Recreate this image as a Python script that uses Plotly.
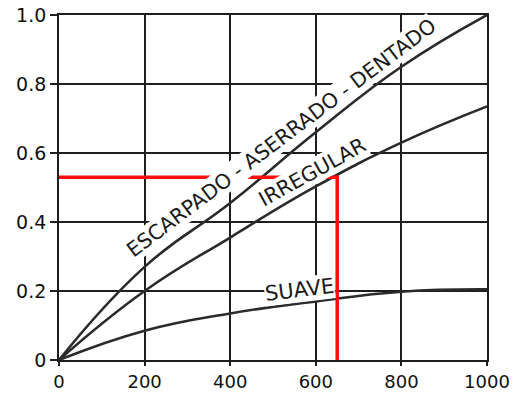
import plotly.graph_objects as go

# Curve readings (x in the horizontal unit, y as fraction 0..1)
x_pts = [0, 200, 400, 600, 800, 1000]
escarpado = [0, 0.27, 0.455, 0.66, 0.85, 1.0]
irregular = [0, 0.20, 0.355, 0.503, 0.63, 0.735]
suave = [0, 0.085, 0.135, 0.17, 0.198, 0.205]

# Worked example
reading_x = 650
reading_y = 0.53

x_ticks = [0, 200, 400, 600, 800, 1000]
x_tick_text = ["0", "200", "400", "600", "800", "1000"]
y_ticks = [0, 0.2, 0.4, 0.6, 0.8, 1.0]
y_tick_text = ["0", "0.2", "0.4", "0.6", "0.8", "1.0"]

ink = "#1e1e1e"
font_family = "DejaVu Sans, Arial, sans-serif"

fig = go.Figure()

for ys in (escarpado, irregular, suave):
    fig.add_trace(go.Scatter(
        x=x_pts, y=ys, mode="lines",
        line=dict(color="#2b2b2b", width=2.6, shape="spline", smoothing=1.3),
        hoverinfo="skip", showlegend=False, cliponaxis=False,
    ))

fig.add_trace(go.Scatter(
    x=[0, reading_x, reading_x], y=[reading_y, reading_y, 0], mode="lines",
    line=dict(color="#ff0d0d", width=3.5),
    hoverinfo="skip", showlegend=False, cliponaxis=False,
))

labels = [
    ("ESCARPADO - ASERRADO - DENTADO", 519, 0.643, -37, 20.5),
    ("IRREGULAR", 592, 0.545, -29, 20.5),
    ("SUAVE", 561, 0.203, -7, 21),
]
for text, lx, ly, ang, size in labels:
    fig.add_annotation(
        x=lx, y=ly, text=text, showarrow=False, textangle=ang,
        font=dict(family=font_family, size=size, color="#1a1a1a"),
        bgcolor="white", borderpad=0,
        xanchor="center", yanchor="middle",
    )

axis_common = dict(
    showgrid=True, gridcolor=ink, gridwidth=1.6,
    showline=True, linecolor=ink, linewidth=1.8, mirror=True,
    ticks="outside", tickwidth=1.6, tickcolor=ink,
    zeroline=False, automargin=False,
)

fig.update_xaxes(range=[0, 1000], tickvals=x_ticks, ticktext=x_tick_text,
                 ticklen=4,
                 tickfont=dict(family=font_family, size=18, color="#111"),
                 **axis_common)
fig.update_yaxes(range=[0, 1.0], tickvals=y_ticks, ticktext=y_tick_text,
                 ticklen=7,
                 tickfont=dict(family=font_family, size=19, color="#111"),
                 **axis_common)

fig.update_layout(
    width=519, height=394,
    margin=dict(l=59, r=32, t=15, b=34),
    plot_bgcolor="white", paper_bgcolor="white",
)

fig.write_html("out.html")
